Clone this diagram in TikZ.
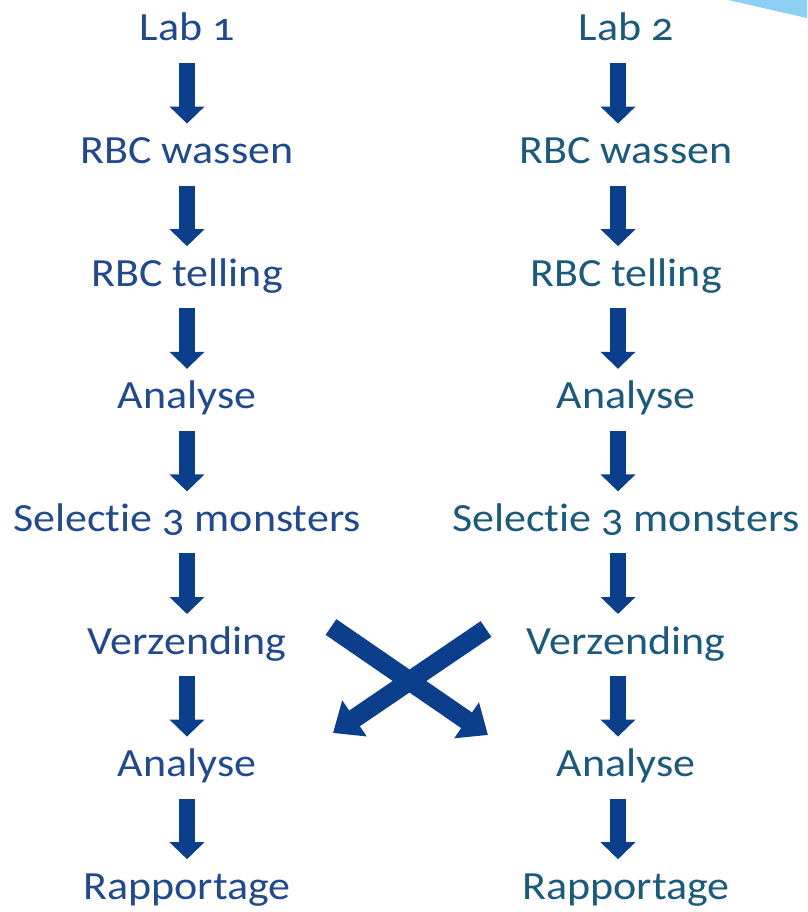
\documentclass[tikz,border=0pt]{standalone}
\usepackage{fontspec}
\setmainfont{Carlito}[Numbers=OldStyle,FakeStretch=1.1,Ligatures=NoCommon]
\usepackage{xcolor}
\usepackage{tikz}
\usetikzlibrary{arrows.meta}
\definecolor{bluex}{HTML}{214A8C}
\definecolor{tealx}{HTML}{1B5A7A}
\definecolor{arrowx}{HTML}{0B3F8C}
\definecolor{skyx}{HTML}{8ECFF5}
\tikzset{
  lbl/.style={anchor=base,inner sep=0pt,font=\fontsize{40}{48}\selectfont},
  downar/.style={arrowx,line width=16pt,-{Triangle[length=17pt,width=34pt]},shorten <=22pt,shorten >=40pt},
  crossar/.style={arrowx,line width=19pt,-{Triangle[length=26pt,width=42pt]}}
}
\begin{document}
\begin{tikzpicture}[x=1pt,y=-1pt]
\useasboundingbox (0,0) rectangle (807,912);
\def\dy{122.6}
\fill[skyx] (728,0) -- (807,0) -- (807,18) -- cycle;
% lab 1
\node[lbl,bluex] (l1) at (187,41) {Lab 1};
\node[lbl,bluex] (l2) at (187,41+\dy) {RBC wassen};
\node[lbl,bluex] (l3) at (187,41+2*\dy) {RBC telling};
\node[lbl,bluex] (l4) at (187,41+3*\dy) {Analyse};
\node[lbl,bluex] (l5) at (187,41+4*\dy) {Selectie 3 monsters};
\node[lbl,bluex] (l6) at (187,41+5*\dy) {Verzending};
\node[lbl,bluex] (l7) at (187,41+6*\dy) {Analyse};
\node[lbl,bluex] (l8) at (187,41+7*\dy) {Rapportage};
% lab 2
\node[lbl,tealx] (r1) at (626,41) {Lab 2};
\node[lbl,tealx] (r2) at (626,41+\dy) {RBC wassen};
\node[lbl,tealx] (r3) at (626,41+2*\dy) {RBC telling};
\node[lbl,tealx] (r4) at (626,41+3*\dy) {Analyse};
\node[lbl,tealx] (r5) at (626,41+4*\dy) {Selectie 3 monsters};
\node[lbl,tealx] (r6) at (626,41+5*\dy) {Verzending};
\node[lbl,tealx] (r7) at (626,41+6*\dy) {Analyse};
\node[lbl,tealx] (r8) at (626,41+7*\dy) {Rapportage};
% down arrows
\foreach \i/\j in {1/2,2/3,3/4,4/5,5/6,6/7,7/8}{
  \draw[downar] (l\i.base) -- (l\j.base);
  \draw[downar] ([xshift=-8pt]r\i.base) -- ([xshift=-8pt]r\j.base);
}
% exchange
\coordinate (xl) at (331,627);
\coordinate (xr) at (486,629);
\coordinate (tl) at (333,733);
\coordinate (tr) at (488,735);
\draw[crossar] (xl) -- (tr);
\draw[crossar] (xr) -- (tl);
\end{tikzpicture}
\end{document}
